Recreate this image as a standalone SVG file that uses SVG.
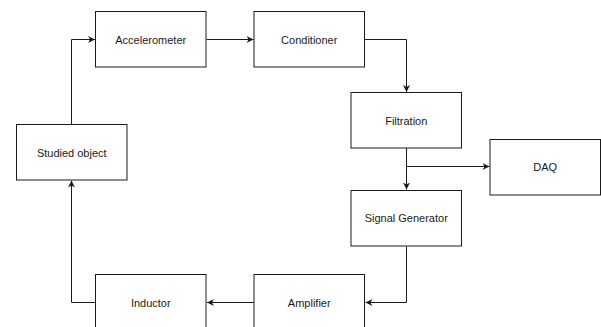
<svg xmlns="http://www.w3.org/2000/svg" width="601" height="327" viewBox="0 0 601 327">
<defs>
<style>
.box{fill:#fff;stroke:#1a1a1a;stroke-width:1}
.lbl{font-family:"Liberation Sans",Arial,sans-serif;font-size:11px;fill:#1a1a1a;text-anchor:middle;dominant-baseline:central}
.edge{fill:none;stroke:#1a1a1a;stroke-width:1}
</style>
<marker id="arr" viewBox="0 0 10 10" refX="10" refY="5" markerWidth="7" markerHeight="7" markerUnits="userSpaceOnUse" orient="auto">
<path d="M0,0 L10,5 L0,10 L3,5 Z" fill="#1a1a1a"/>
</marker>
</defs>
<rect width="601" height="327" fill="#fff"/>
<g id="connectors">
<path class="edge" d="M71.5,124.5 V39.5 H95" marker-end="url(#arr)"/>
<path class="edge" d="M206.5,39.5 H253.5" marker-end="url(#arr)"/>
<path class="edge" d="M365,39.5 H406.5 V92" marker-end="url(#arr)"/>
<path class="edge" d="M406.5,148 V189.5" marker-end="url(#arr)"/>
<path class="edge" d="M406.5,166.5 H489.5" marker-end="url(#arr)"/>
<path class="edge" d="M406.5,246.5 V302.5 H365.5" marker-end="url(#arr)"/>
<path class="edge" d="M254,302.5 H207" marker-end="url(#arr)"/>
<path class="edge" d="M95.5,302.5 H71.5 V180.5" marker-end="url(#arr)"/>
</g>
<g id="studied"><rect class="box" x="16.5" y="124.5" width="110.5" height="55.5"/><text class="lbl" x="71.75" y="152.5">Studied object</text></g>
<g id="accelerometer"><rect class="box" x="95.5" y="11.5" width="110.5" height="55.5"/><text class="lbl" x="150.75" y="39.5">Accelerometer</text></g>
<g id="conditioner"><rect class="box" x="254" y="11.5" width="110.5" height="55.5"/><text class="lbl" x="309.25" y="39.5">Conditioner</text></g>
<g id="filtration"><rect class="box" x="351" y="92.5" width="110.5" height="55.5"/><text class="lbl" x="406.25" y="120.5">Filtration</text></g>
<g id="daq"><rect class="box" x="490" y="139.5" width="110.5" height="55.5"/><text class="lbl" x="545.25" y="167">DAQ</text></g>
<g id="signal-generator"><rect class="box" x="351" y="190.5" width="110.5" height="55.5"/><text class="lbl" x="406.25" y="218">Signal Generator</text></g>
<g id="amplifier"><rect class="box" x="254" y="274.5" width="110.5" height="55.5"/><text class="lbl" x="309.25" y="302.5">Amplifier</text></g>
<g id="inductor"><rect class="box" x="95.5" y="274.5" width="110.5" height="55.5"/><text class="lbl" x="150.75" y="302.5">Inductor</text></g>
</svg>
